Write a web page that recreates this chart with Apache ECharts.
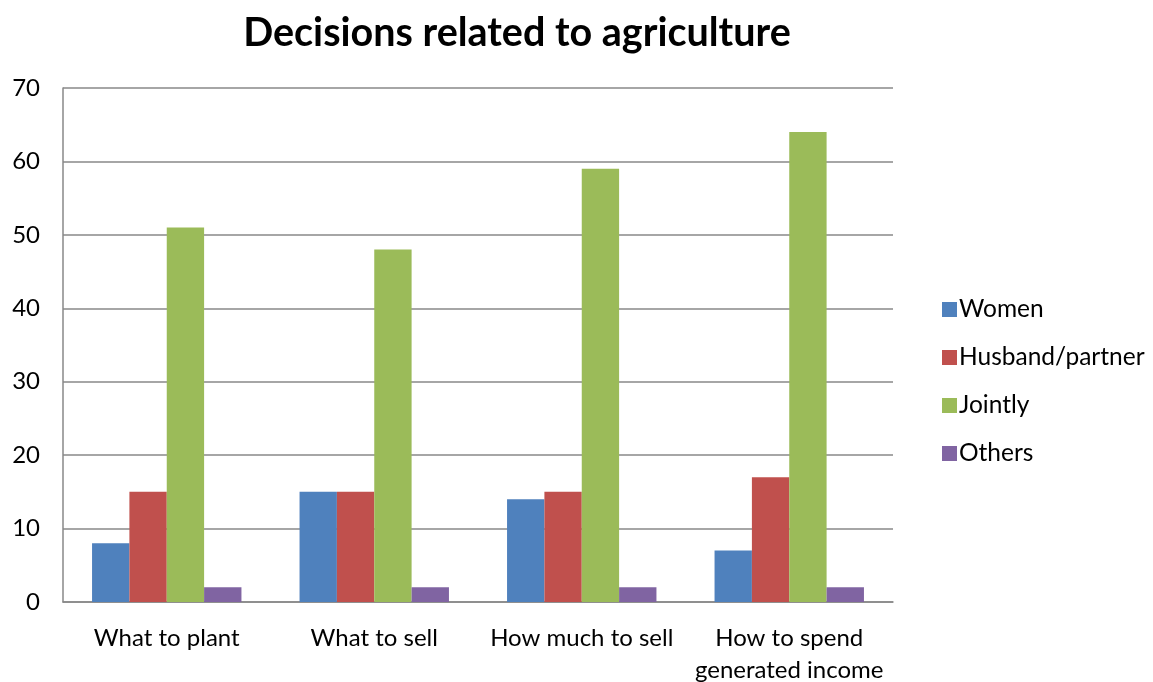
<!DOCTYPE html>
<html><head><meta charset="utf-8">
<script src="https://cdn.jsdelivr.net/npm/echarts@6/dist/echarts.min.js"></script>
<style>html,body{margin:0;padding:0;background:#fff}#c{width:1153px;height:682px}</style>
</head><body><div id="c"></div>
<script>
const categories = ["What to plant", "What to sell", "How much to sell", "How to spend\ngenerated income"];
const women = [8, 15, 14, 7];
const husband = [15, 15, 15, 17];
const jointly = [51, 48, 59, 64];
const others = [2, 2, 2, 2];
const seriesNames = ["Women", "Husband/partner", "Jointly", "Others"];
const colors = ["#4F81BD", "#C0504D", "#9BBB59", "#8064A2"];
const font = "Lato";
const chart = echarts.init(document.getElementById('c'));
const data = [women, husband, jointly, others];
chart.setOption({
  animation: false,
  color: colors,
  title: { text: "Decisions related to agriculture", left: 512, top: 8, textAlign: 'center',
    textStyle: { fontFamily: font, fontSize: 39.5, fontWeight: 'bold', color: '#000' } },
  legend: { orient: 'vertical', left: 937, top: 292, itemWidth: 15, itemHeight: 15, itemGap: 23,
    icon: 'rect', textStyle: { fontFamily: font, fontSize: 24.5, color: '#000', padding: [0,0,0,-3] },
    data: seriesNames },
  grid: { left: 63, top: 88, width: 830, height: 514, containLabel: false, outerBoundsMode: 'none' },
  xAxis: { type: 'category', data: categories,
    axisLine: { lineStyle: { color: '#888', width: 1.5 } }, axisTick: { show: false },
    axisLabel: { interval: 0, fontFamily: font, fontSize: 24, color: '#000', margin: 20, lineHeight: 32 } },
  yAxis: { type: 'value', min: 0, max: 70, interval: 10,
    axisLine: { show: true, lineStyle: { color: '#888', width: 1.5 } }, axisTick: { show: false },
    splitLine: { lineStyle: { color: '#888', width: 1.5 } },
    axisLabel: { fontFamily: font, fontSize: 24, color: '#000', margin: 23 } },
  series: seriesNames.map((n, i) => ({ name: n, type: 'bar', data: data[i], barGap: '0%', barCategoryGap: '28%' }))
});
</script></body></html>
